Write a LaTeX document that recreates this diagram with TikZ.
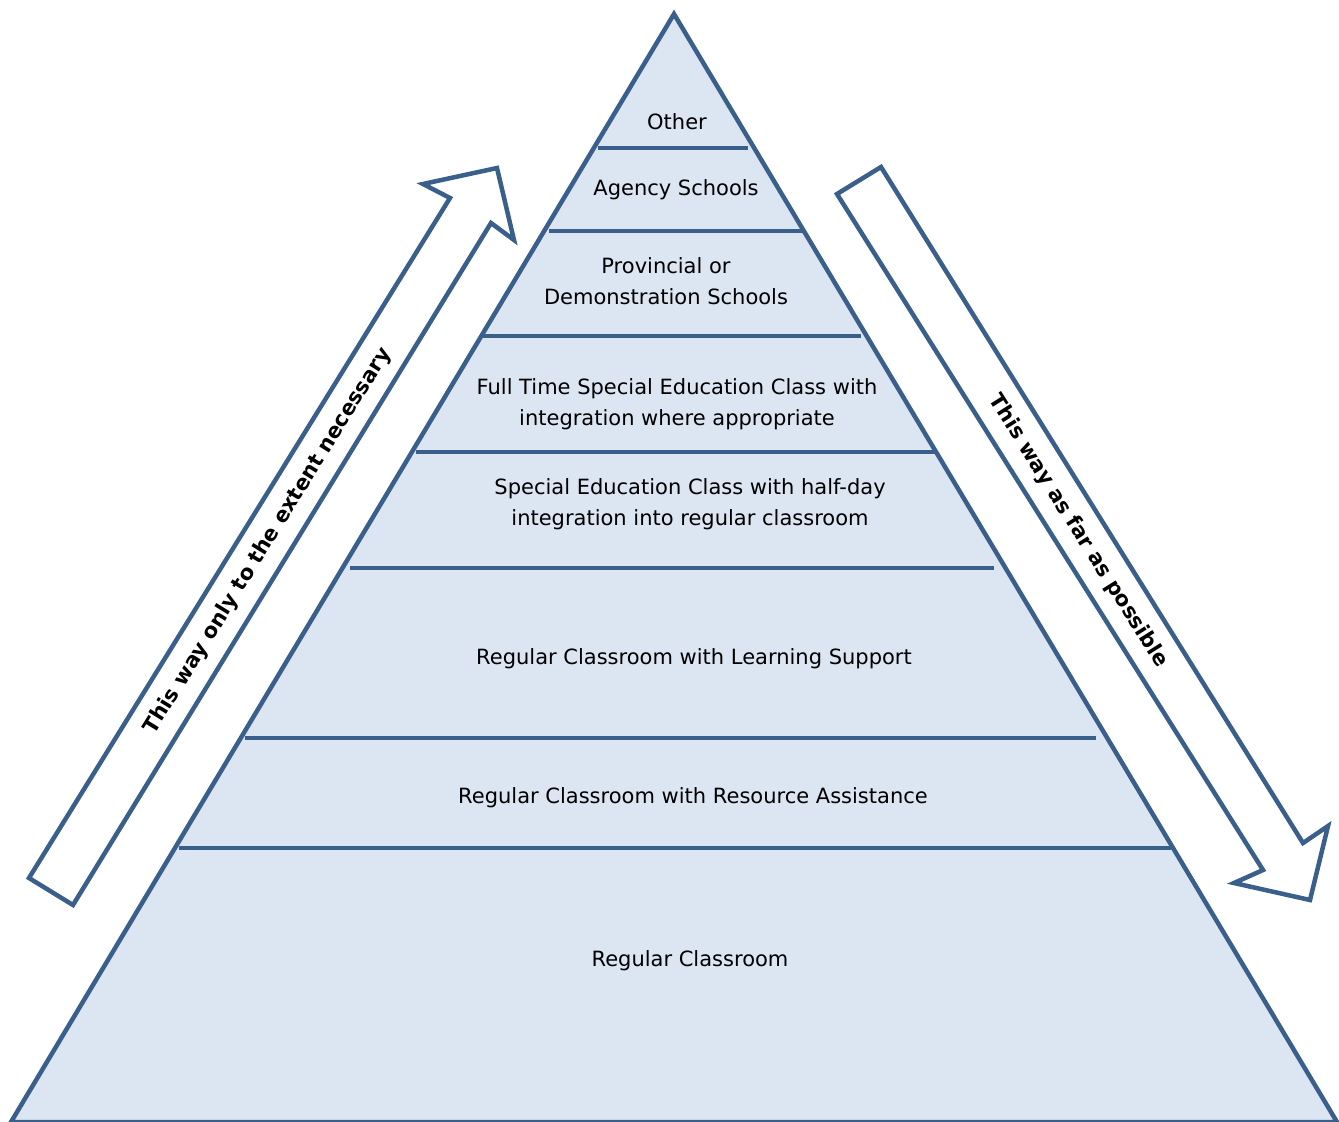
\documentclass[tikz,border=0pt]{standalone}
\usepackage{fontspec}
\setmainfont{DejaVu Sans}
\definecolor{borde}{HTML}{3A5F8B}
\definecolor{relleno}{HTML}{DCE6F2}

\begin{document}
\begin{tikzpicture}[x=1pt,y=-1pt,
    nivel/.style={align=center,font=\fontsize{21}{31}\selectfont},
    leyenda/.style={font=\bfseries\fontsize{21}{25}\selectfont}]

    \useasboundingbox (0,0) rectangle (1339,1122);

    % piramide
    \filldraw[fill=relleno, draw=borde, line width=4.5pt] (674,14) -- (1337,1122) -- (11,1122) -- cycle;

    % divisiones
    \draw[borde, line width=4pt] (598,148) -- (748,148);
    \draw[borde, line width=4pt] (549,231) -- (803,231);
    \draw[borde, line width=4pt] (482,336) -- (861,336);
    \draw[borde, line width=4pt] (416,452) -- (935,452);
    \draw[borde, line width=4pt] (350,568) -- (994,568);
    \draw[borde, line width=4pt] (245,738) -- (1096,738);
    \draw[borde, line width=4pt] (179,848) -- (1171,848);

    % flecha hacia arriba
    \filldraw[fill=white, draw=borde, line width=4.5pt] (29,878) -- (450,198) -- (423,184) -- (497,168)
        -- (514,240) -- (491,223) -- (73,905) -- cycle;

    % flecha hacia abajo
    \filldraw[fill=white, draw=borde, line width=4.5pt] (837,194) -- (881,167) -- (1303,843) -- (1328,826)
        -- (1310,900) -- (1234,883) -- (1263,870) -- cycle;

    % niveles
    \node[nivel] (otros) at (677,122) {Other};
    \node[nivel] (agencia) at (676,190) {Agency Schools};
    \node[nivel] (provincial) at (666,281) {Provincial or\\Demonstration Schools};
    \node[nivel] (completo) at (677,404) {Full Time Special Education Class with\\integration where appropriate};
    \node[nivel] (mediodia) at (690,504) {Special Education Class with half-day\\integration into regular classroom};
    \node[nivel] (apoyo) at (694,659) {Regular Classroom with Learning Support};
    \node[nivel] (recursos) at (693,798) {Regular Classroom with Resource Assistance};
    \node[nivel] (regular) at (690,961) {Regular Classroom};

    % leyendas
    \node[leyenda, rotate=58.2] (izq) at (268,541) {This way only to the extent necessary};
    \node[leyenda, rotate=-57.8] (der) at (1078,531) {This way as far as possible};

\end{tikzpicture}
\end{document}
